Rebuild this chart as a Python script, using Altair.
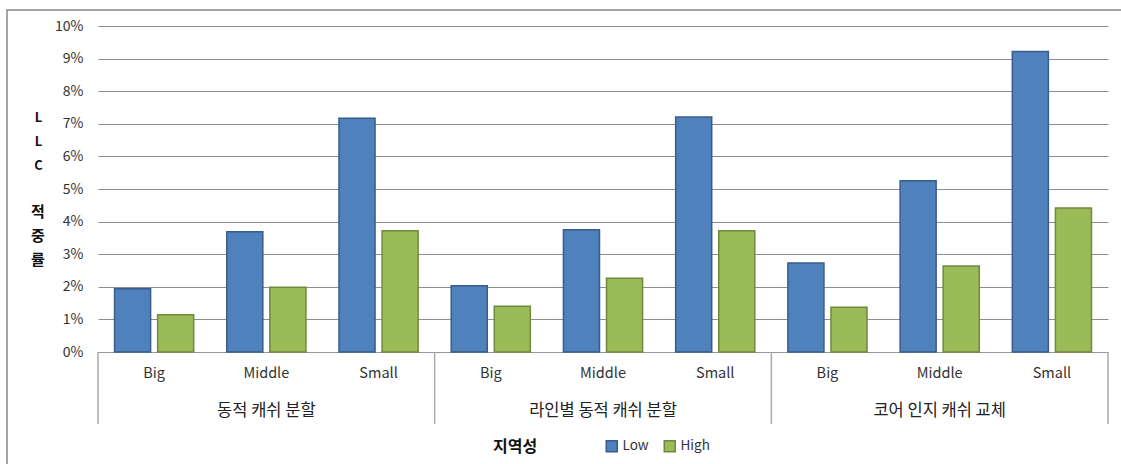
import altair as alt
import pandas as pd

groups = ["동적 캐쉬 분할", "라인별 동적 캐쉬 분할", "코어 인지 캐쉬 교체"]
sizes = ["Big", "Middle", "Small"]
series = ["Low", "High"]
low_values = [1.94, 3.69, 7.17, 2.03, 3.75, 7.21, 2.73, 5.25, 9.22]
high_values = [1.14, 1.99, 3.72, 1.40, 2.26, 3.72, 1.37, 2.64, 4.42]
y_ticks = [0, 1, 2, 3, 4, 5, 6, 7, 8, 9, 10]
y_title_top = ["L", "L", "C"]
y_title_bottom = "적\n중\n률"

rows = []
for gi, g in enumerate(groups):
    for si, s in enumerate(sizes):
        k = g + "|" + s
        rows.append({"key": k, "group": g, "size": s, "series": "Low", "value": low_values[gi * 3 + si]})
        rows.append({"key": k, "group": g, "size": s, "series": "High", "value": high_values[gi * 3 + si]})
df = pd.DataFrame(rows)
keys = [g + "|" + s for g in groups for s in sizes]

mid_df = pd.DataFrame({"group": groups, "key": [g + "|Middle" for g in groups]})
start_df = pd.DataFrame({"key": [g + "|Big" for g in groups]})
end_df = pd.DataFrame({"key": [groups[-1] + "|Small"]})
ytitle_df = pd.DataFrame({"t": [y_title_bottom]})

W, H = 1010, 326
FONT = "Noto Sans CJK KR"
xscale = alt.Scale(domain=keys, paddingInner=0, paddingOuter=0)
x_axis = alt.Axis(title=None, labelExpr="split(datum.value,'|')[1]", labelAngle=0,
                  labelPadding=14, labelFontSize=14.5, labelColor="#333",
                  labelBaseline="top", ticks=False, domainColor="#999", grid=False)

legend_kw = dict(title="지역성", orient="none", legendX=395, legendY=413,
                 direction="horizontal", titleOrient="left",
                 titleFontSize=16, titleFontWeight="bold", titleColor="#111",
                 titlePadding=67, symbolType="square", symbolSize=121,
                 symbolStrokeWidth=1.5, labelFontSize=13.5, labelColor="#333",
                 labelOffset=4, columnPadding=12)

bars = alt.Chart(df).mark_bar(strokeWidth=1.5).encode(
    x=alt.X("key:N", scale=xscale, sort=keys, axis=x_axis),
    xOffset=alt.XOffset("series:N", sort=series,
                        scale=alt.Scale(domain=series, paddingInner=0.163, paddingOuter=0.384)),
    y=alt.Y("value:Q", scale=alt.Scale(domain=[0, 10]),
            axis=alt.Axis(values=y_ticks, labelExpr="datum.value + '%'", domain=False, ticks=False,
                          labelPadding=15, labelFontSize=14, labelColor="#333",
                          gridColor="#8e8e8e", gridWidth=1,
                          title=y_title_top, titleAngle=0, titleFontWeight="bold", titleFontSize=13,
                          titleLineHeight=24, titleX=-60, titleY=85, titleBaseline="top",
                          titleAlign="center", titleColor="#111")),
    color=alt.Color("series:N", sort=series,
                    scale=alt.Scale(domain=series, range=["#4F81BD", "#9BBB59"]),
                    legend=alt.Legend(**legend_kw)),
    stroke=alt.Stroke("series:N", sort=series,
                      scale=alt.Scale(domain=series, range=["#385D8A", "#71893F"]),
                      legend=alt.Legend(**legend_kw)),
)

ytitle_text = alt.Chart(ytitle_df).mark_text(
    fontSize=15, fontWeight="bold", color="#111", baseline="top", align="center",
    lineHeight=24, lineBreak="\n").encode(
    x=alt.value(-60), y=alt.value(179), text="t:N",
)

group_text = alt.Chart(mid_df).mark_text(fontSize=16.5, color="#222", baseline="middle").encode(
    x=alt.X("key:N", scale=xscale, sort=keys, axis=x_axis),
    y=alt.value(385),
    text="group:N",
)

dividers = alt.Chart(start_df).mark_rule(color="#aaa", strokeWidth=1.5).encode(
    x=alt.X("key:N", scale=xscale, sort=keys, axis=x_axis, bandPosition=0),
    y=alt.value(H),
    y2=alt.value(H + 72),
)

end_divider = alt.Chart(end_df).mark_rule(color="#aaa", strokeWidth=1.5).encode(
    x=alt.X("key:N", scale=xscale, sort=keys, axis=x_axis, bandPosition=1),
    y=alt.value(H),
    y2=alt.value(H + 72),
)

border = alt.Chart(pd.DataFrame({"b": [0]})).mark_rect(filled=False, stroke="#888", strokeWidth=1.5).encode(
    x=alt.value(-91), x2=alt.value(1040), y=alt.value(-16), y2=alt.value(470),
)

chart = alt.layer(border, bars, ytitle_text, group_text, dividers, end_divider).properties(
    width=W, height=H,
    autosize=alt.AutoSizeParams(type="none"),
    padding={"left": 98, "top": 26, "right": 13, "bottom": 112},
).configure(font=FONT).configure_view(stroke=None)

chart.save("out.html", embed_options={"renderer": "svg", "actions": False})
